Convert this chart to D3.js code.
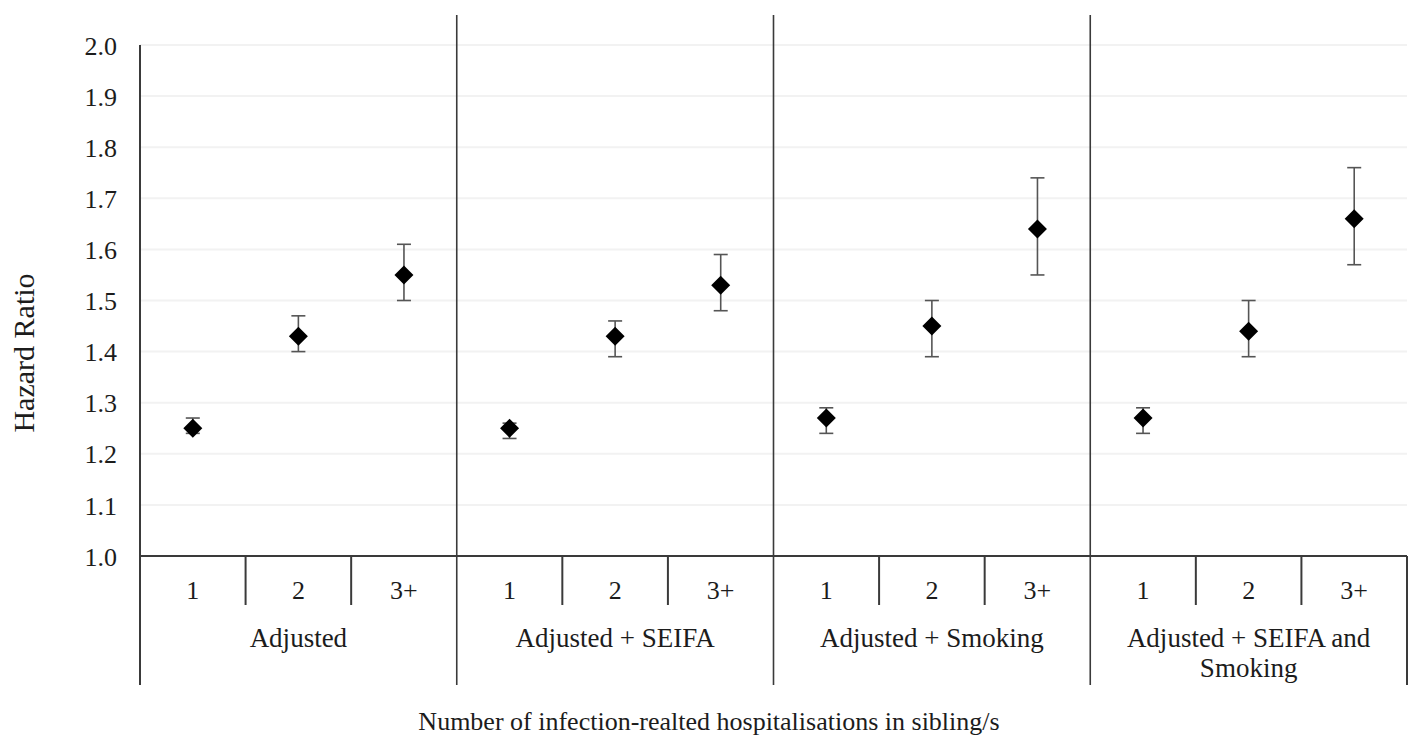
<!DOCTYPE html>
<html>
<head>
<meta charset="utf-8">
<script src="https://cdn.jsdelivr.net/npm/d3@7"></script>
<style>
  body { margin: 0; background: #fff; }
  svg text { font-family: "Liberation Serif", "Times New Roman", serif; fill: #1c1c1c; }
</style>
</head>
<body>
<div id="chart"></div>
<script>
// data
var groups = ["Adjusted", "Adjusted + SEIFA", "Adjusted + Smoking", "Adjusted + SEIFA and Smoking"];
var subcats = ["1", "2", "3+"];
var hr    = [[1.25, 1.43, 1.55], [1.25, 1.43, 1.53], [1.27, 1.45, 1.64], [1.27, 1.44, 1.66]];
var lower = [[1.24, 1.40, 1.50], [1.23, 1.39, 1.48], [1.24, 1.39, 1.55], [1.24, 1.39, 1.57]];
var upper = [[1.27, 1.47, 1.61], [1.26, 1.46, 1.59], [1.29, 1.50, 1.74], [1.29, 1.50, 1.76]];
var yTicks = [1.0, 1.1, 1.2, 1.3, 1.4, 1.5, 1.6, 1.7, 1.8, 1.9, 2.0];

var W = 1413, H = 739;
var plotLeft = 140, plotRight = 1407, plotTop = 45, plotBase = 556, frameBottom = 685;

var svg = d3.select("#chart").append("svg")
            .attr("width", W)
            .attr("height", H);

var y = d3.scaleLinear().domain([1.0, 2.0]).range([plotBase, plotTop]);
var xg = d3.scaleBand().domain(groups).range([plotLeft, plotRight]);
var xs = d3.scaleBand().domain(subcats).range([0, xg.bandwidth()]);

// grid lines
svg.selectAll("line.grid").data(yTicks.slice(1))
   .enter().append("line")
   .attr("class", "grid")
   .attr("x1", plotLeft).attr("x2", plotRight)
   .attr("y1", function(d){ return y(d); })
   .attr("y2", function(d){ return y(d); })
   .attr("stroke", "#f2f2f2")
   .attr("stroke-width", 2);

// y axis ticks
var yAxis = svg.append("g")
   .attr("transform", "translate(" + (plotLeft - 23) + ",0)")
   .call(d3.axisLeft(y).tickValues(yTicks).tickSize(0).tickPadding(0).tickFormat(d3.format(".1f")));
yAxis.select(".domain").remove();
yAxis.selectAll("text").attr("font-size", 26).attr("dy", "0.35em")
     .style("font-family", "Liberation Serif").attr("fill", "#1c1c1c");

var axisCol = "#3a3a3a";

// y axis line
svg.append("line")
   .attr("x1", plotLeft).attr("x2", plotLeft)
   .attr("y1", plotTop).attr("y2", frameBottom)
   .attr("stroke", axisCol).attr("stroke-width", 2);

// x baseline
svg.append("line")
   .attr("x1", plotLeft).attr("x2", plotRight)
   .attr("y1", plotBase).attr("y2", plotBase)
   .attr("stroke", axisCol).attr("stroke-width", 2);

// right edge
svg.append("line")
   .attr("x1", plotRight).attr("x2", plotRight)
   .attr("y1", plotBase).attr("y2", frameBottom)
   .attr("stroke", axisCol).attr("stroke-width", 2);

// group dividers
svg.selectAll("line.gdiv").data(groups.slice(1))
   .enter().append("line")
   .attr("class", "gdiv")
   .attr("x1", function(d){ return xg(d); })
   .attr("x2", function(d){ return xg(d); })
   .attr("y1", 15).attr("y2", frameBottom)
   .attr("stroke", axisCol).attr("stroke-width", 1.6);

groups.forEach(function(g, gi) {
    var gx = xg(g);

    // sub dividers
    subcats.slice(1).forEach(function(s) {
        svg.append("line")
           .attr("x1", gx + xs(s)).attr("x2", gx + xs(s))
           .attr("y1", plotBase).attr("y2", 605)
           .attr("stroke", axisCol).attr("stroke-width", 2);
    });

    // sub labels
    subcats.forEach(function(s) {
        svg.append("text")
           .text(s)
           .attr("x", gx + xs(s) + xs.bandwidth() / 2)
           .attr("y", 599)
           .attr("font-size", 26)
           .attr("text-anchor", "middle");
    });

    // group label (wrap the long one)
    var lines = g == "Adjusted + SEIFA and Smoking" ? ["Adjusted + SEIFA and", "Smoking"] : [g];
    lines.forEach(function(t, li) {
        svg.append("text")
           .text(t)
           .attr("x", gx + xg.bandwidth() / 2)
           .attr("y", 647 + li * 30)
           .attr("font-size", 27)
           .attr("text-anchor", "middle");
    });

    // error bars and points
    subcats.forEach(function(s, si) {
        var cx = gx + xs(s) + xs.bandwidth() / 2;
        var col = "#555";
        svg.append("line")
           .attr("x1", cx).attr("x2", cx)
           .attr("y1", y(lower[gi][si])).attr("y2", y(upper[gi][si]))
           .attr("stroke", col).attr("stroke-width", 1.6);
        [lower[gi][si], upper[gi][si]].forEach(function(v) {
            svg.append("line")
               .attr("x1", cx - 7).attr("x2", cx + 7)
               .attr("y1", y(v)).attr("y2", y(v))
               .attr("stroke", col).attr("stroke-width", 1.6);
        });
        var cy = y(hr[gi][si]), r = 9.5;
        svg.append("path")
           .attr("d", "M" + cx + "," + (cy - r) + "L" + (cx + r) + "," + cy + "L" + cx + "," + (cy + r) + "L" + (cx - r) + "," + cy + "Z")
           .attr("fill", "#000");
    });
});

// axis titles
svg.append("text")
   .text("Number of infection-realted hospitalisations in sibling/s")
   .attr("x", 709).attr("y", 730)
   .attr("font-size", 26)
   .attr("text-anchor", "middle");

svg.append("text")
   .text("Hazard Ratio")
   .attr("transform", "translate(34,353) rotate(-90)")
   .attr("font-size", 30)
   .attr("text-anchor", "middle");
</script>
</body>
</html>
